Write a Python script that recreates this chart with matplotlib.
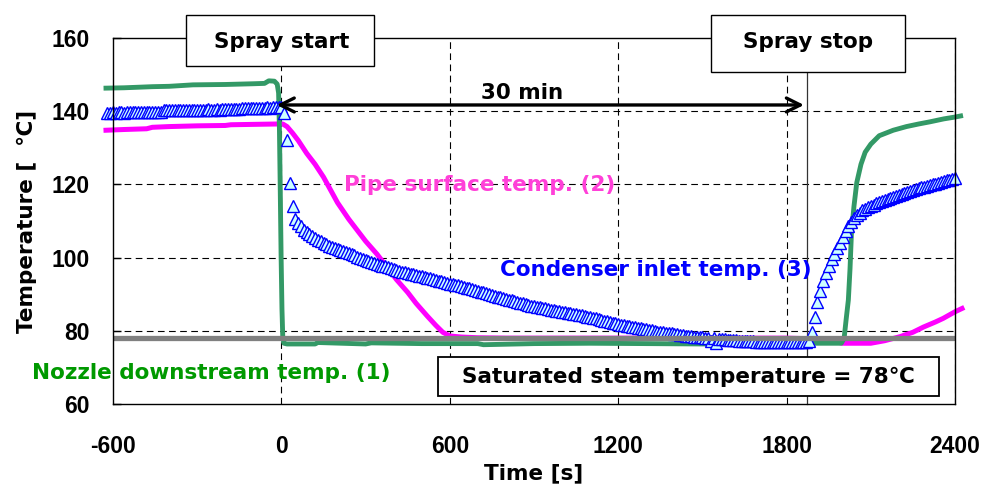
import numpy as np
import matplotlib
matplotlib.use("Agg")
import matplotlib.pyplot as plt
from matplotlib.patches import Rectangle

plt.rcParams['font.family'] = ['DejaVu Sans']
plt.rcParams['font.weight'] = 'bold'

# ---------------- data ----------------
# Nozzle downstream temperature (1)
nozzle_t = [-625, -560, -460, -400, -315, -200, -100, -60, -45, -25, -15, -10, -7, -4, -1, 2, 5, 9, 20,
            120, 130, 300, 320, 500, 700, 720, 900, 1100, 1300, 1500, 1700, 1900, 1995,
            2005, 2012, 2020, 2026, 2031, 2040, 2050, 2065, 2080, 2100, 2130, 2180, 2227, 2270, 2311,
            2360, 2400, 2420]
nozzle_v = [146.3, 146.4, 146.7, 146.8, 147.2, 147.3, 147.5, 147.6, 148.3, 148.2, 147.4, 145.0, 135.0, 118.0, 100.0, 86.0, 78.0, 76.6, 76.4,
            76.4, 76.8, 76.4, 76.7, 76.5, 76.5, 76.2, 76.5, 76.6, 76.5, 76.4, 76.5, 76.6, 76.6,
            78.0, 83.0, 88.4, 97.0, 106.6, 114.0, 120.5, 125.5, 128.8, 131.0, 133.3, 134.8, 135.8, 136.5, 137.1,
            137.9, 138.4, 138.7]

# Pipe surface temperature (2)
pipe_t = [-625, -560, -480, -460, -400, -300, -200, -180, -100, -20, 5, 20, 40, 60, 90, 120, 150, 200, 240,
          270, 300, 340, 380, 410, 450, 480, 520, 550, 575, 600, 640, 700, 800, 1000, 1200, 1400, 1600,
          1800, 1900, 1960, 2000, 2100, 2150, 2204, 2250, 2287, 2330, 2358, 2400, 2425]
pipe_v = [134.8, 135.0, 135.2, 135.6, 135.8, 136.0, 136.1, 136.3, 136.4, 136.5, 136.5, 135.8, 134.0, 132.0, 128.5, 125.5, 122.0, 115.0, 110.5,
          107.5, 104.5, 101.0, 97.0, 94.0, 90.5, 87.5, 84.0, 81.5, 79.6, 78.6, 78.3, 78.1, 78.0, 78.0, 78.0, 78.0, 78.0,
          78.0, 77.8, 77.2, 76.6, 76.6, 77.3, 78.4, 79.6, 81.0, 82.4, 83.4, 85.2, 86.1]

# Condenser inlet temperature (3), sampled every 10 s from -620 s
cond_t0 = -620
cond_dt = 10
cond_v = [
    139.6, 139.6, 139.7, 139.6, 139.7, 139.7, 139.6, 139.7, 139.7, 139.8,
    139.7, 139.8, 139.8, 139.8, 139.7, 139.8, 139.9, 139.8, 139.9, 139.9,
    140.2, 140.3, 140.2, 140.3, 140.3, 140.2, 140.3, 140.3, 140.4, 140.3,
    140.3, 140.4, 140.4, 140.3, 140.4, 140.4, 140.5, 140.4, 140.4, 140.5,
    140.4, 140.5, 140.5, 140.6, 140.5, 140.5, 140.6, 140.5, 140.8, 140.9,
    140.8, 140.9, 140.9, 141.0, 140.9, 141.0, 141.0, 141.1, 141.0, 141.1,
    141.1, 141.2, 141.1, 139.5, 132.0, 120.3, 114.0, 110.5, 109.5, 108.6,
    107.6, 107.0, 106.4, 105.9, 105.4, 104.9, 104.5, 104.1, 103.7, 103.3,
    103.0, 102.7, 102.4, 102.1, 101.8, 101.5, 101.2, 100.9, 100.6, 100.3,
    100.0, 99.7, 99.4, 99.1, 98.8, 98.6, 98.3, 98.1, 97.8, 97.6,
    97.3, 97.1, 96.9, 96.6, 96.4, 96.2, 96.0, 95.8, 95.6, 95.5,
    95.3, 95.1, 94.9, 94.7, 94.5, 94.3, 94.1, 93.9, 93.7, 93.5,
    93.3, 93.1, 92.9, 92.7, 92.5, 92.4, 92.2, 92.0, 91.8, 91.6,
    91.4, 91.2, 90.9, 90.7, 90.5, 90.2, 90.0, 89.8, 89.5, 89.3,
    89.1, 88.9, 88.7, 88.5, 88.3, 88.1, 87.9, 87.7, 87.5, 87.3,
    87.1, 86.9, 86.7, 86.6, 86.4, 86.3, 86.1, 86.0, 85.8, 85.7,
    85.5, 85.4, 85.2, 85.1, 84.9, 84.8, 84.6, 84.5, 84.3, 84.2,
    84.0, 83.9, 83.7, 83.6, 83.4, 83.2, 83.0, 82.8, 82.6, 82.4,
    82.2, 82.1, 81.9, 81.7, 81.6, 81.4, 81.3, 81.1, 81.0, 80.8,
    80.7, 80.5, 80.4, 80.2, 80.1, 79.9, 79.8, 79.7, 79.6, 79.5,
    79.4, 79.3, 79.2, 79.0, 78.9, 78.8, 78.7, 78.6, 78.5, 78.4,
    78.4, 78.3, 78.2, 78.1, 78.0, 77.3, 77.9, 76.6, 77.8, 77.7,
    77.7, 77.6, 77.5, 77.5, 77.4, 77.3, 77.3, 77.2, 77.2, 77.1,
    77.1, 77.0, 77.0, 76.9, 77.0, 76.9, 77.0, 76.9, 76.9, 77.0,
    76.9, 76.9, 77.0, 76.9, 76.9, 76.9, 77.0, 76.9, 76.9, 77.0,
    77.1, 79.8, 83.9, 88.0, 91.0, 93.5, 95.7, 97.7, 99.5, 101.0,
    102.5, 103.9, 105.5, 107.2, 108.5, 109.8, 110.8, 111.6, 112.3, 112.9,
    113.4, 113.8, 114.2, 114.5, 114.8, 115.1, 115.4, 115.7, 116.0, 116.2,
    116.5, 116.8, 117.0, 117.3, 117.6, 117.9, 118.1, 118.4, 118.7, 118.9,
    119.2, 119.4, 119.6, 119.8, 120.0, 120.2, 120.4, 120.6, 120.9, 121.1,
    121.3, 121.5, 121.7,
]
cond_t = cond_t0 + cond_dt * np.arange(len(cond_v))

sat_temp = 78
spray_start = 0
spray_stop = 1871
x_ticks = [-600, 0, 600, 1200, 1800, 2400]
y_ticks = [60, 80, 100, 120, 140, 160]

FS = 15.5
TFS = 16.5
TICK_FONT = ['Liberation Sans', 'DejaVu Sans']

# ---------------- figure ----------------
fig = plt.figure(figsize=(9.82, 4.86), dpi=100)
ax = fig.add_axes([113/982, 1-404/486, (955-113)/982, (404-38)/486])
ax.set_xlim(-600, 2400)
ax.set_ylim(60, 160)

dash = (0, (6, 4))
for y in [80, 100, 120, 140]:
    ax.axhline(y, color='black', lw=0.8, ls=dash, zorder=1)
for x in [600, 1200, 1800, 2400]:
    ax.axvline(x, color='black', lw=0.8, ls=dash, zorder=1)
ax.plot([spray_start, spray_start], [60, 152.3], color='black', lw=0.8, ls=dash, zorder=1)
ax.plot([spray_stop, spray_stop], [60, 150.7], color='#333333', lw=0.9, zorder=1, clip_on=False)

ax.plot(nozzle_t, nozzle_v, color='#339966', lw=3.5, zorder=3, clip_on=False,
        solid_joinstyle='round')
ax.plot(pipe_t, pipe_v, color='#FF00FF', lw=3.6, zorder=2, clip_on=False)
ax.plot(cond_t, cond_v, ls='none', marker='^', ms=8, mfc='#CCFFFF', mec='#0000FF',
        mew=1.0, zorder=4, clip_on=False)
ax.plot([-600, 2400], [sat_temp, sat_temp], color='#808080', lw=3.8, zorder=5)

# arrow 30 min
ax.annotate('', xy=(-17, 141.7), xytext=(1862, 141.7),
            arrowprops=dict(arrowstyle='<->,head_length=1.0,head_width=0.5', lw=2.4,
                            color='black', shrinkA=0, shrinkB=0), zorder=6)
ax.text(857, 145, '30 min', ha='center', va='center', fontsize=FS, fontweight='bold')

# boxes
ax.add_patch(Rectangle((-340, 152.3), 670, 14.0, facecolor='white', edgecolor='black',
                       lw=1.0, clip_on=False, zorder=7))
ax.text(0, 158.9, 'Spray start', ha='center', va='center', fontsize=FS,
        fontweight='bold', zorder=8, clip_on=False)
ax.add_patch(Rectangle((1530, 150.7), 691, 15.6, facecolor='white', edgecolor='black',
                       lw=1.0, clip_on=False, zorder=7))
ax.text(1876, 158.8, 'Spray stop', ha='center', va='center', fontsize=FS,
        fontweight='bold', zorder=8, clip_on=False)

ax.add_patch(Rectangle((558, 62.2), 1785, 10.6, facecolor='white', edgecolor='black',
                       lw=1.3, zorder=7))
ax.text(1450, 67.5, 'Saturated steam temperature = 78\u2103', ha='center', va='center',
        fontsize=FS, fontweight='bold', zorder=8)

# series labels
ax.text(707, 119.8, 'Pipe surface temp. (2)', color='#FF40D8', ha='center', va='center',
        fontsize=FS, fontweight='bold', zorder=8)
ax.text(1334, 96.6, 'Condenser inlet temp. (3)', color='#0000FF', ha='center', va='center',
        fontsize=FS, fontweight='bold', zorder=8)
ax.text(-251, 68.5, 'Nozzle downstream temp. (1)', color='#009900', ha='center', va='center',
        fontsize=FS, fontweight='bold', zorder=8, clip_on=False)

# axes styling
ax.set_xticks(x_ticks)
ax.set_yticks(y_ticks)
ax.set_xticklabels([str(v) for v in x_ticks])
ax.set_yticklabels([str(v) for v in y_ticks])
ax.tick_params(axis='y', direction='in', length=6, width=1, pad=17, labelsize=TFS)
ax.tick_params(axis='x', direction='in', length=0, pad=22, labelsize=TFS)
for lab in ax.get_xticklabels() + ax.get_yticklabels():
    lab.set_fontweight('bold')
    lab.set_family(TICK_FONT)
for s in ax.spines.values():
    s.set_linewidth(1.0)
    s.set_color('black')
    s.set_zorder(6)

ax.set_xlabel('Time [s]', fontsize=FS, fontweight='bold', labelpad=4)
ax.set_ylabel('Temperature [  \u2103]', fontsize=FS, fontweight='bold', labelpad=10)

fig.savefig('out.png', dpi=100)
